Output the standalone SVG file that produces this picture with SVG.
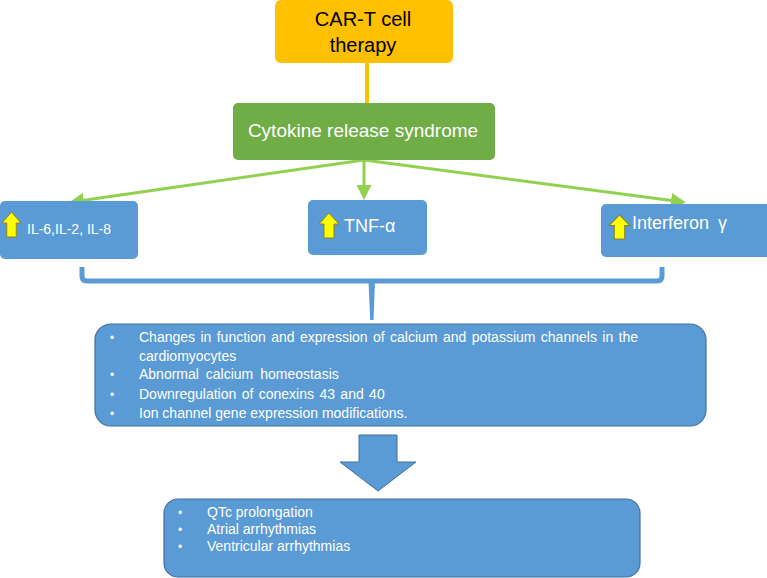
<svg xmlns="http://www.w3.org/2000/svg" xmlns:xlink="http://www.w3.org/1999/xlink" width="767" height="578" viewBox="0 0 767 578">
<style>
  text { font-family: "Liberation Sans", Arial, sans-serif; }
  .w { fill: #ffffff; }
  .k { fill: #000000; }
  .blue { fill: #5B9BD5; }
  .bb { fill: #5B9BD5; stroke: #41719C; stroke-width: 1.2; }
  .gl { stroke: #92D050; stroke-width: 3; fill: none; marker-end: url(#gh); }
  .body { font-size: 14px; fill: #ffffff; }
  .bul { font-size: 12px; }
  .up { fill: #FFFF00; stroke: #8A7F2A; stroke-width: 1; }
</style>
<defs>
  <marker id="gh" viewBox="0 0 10 10" refX="8" refY="5" markerWidth="5" markerHeight="5" orient="auto" markerUnits="strokeWidth">
    <path d="M0,0 L10,5 L0,10 z" fill="#92D050"/>
  </marker>
  <polygon id="upArrow" points="10,0 20,11 15,11 15,25 5,25 5,11 0,11"/>
</defs>

<g id="connectors">
  <line x1="367" y1="63" x2="367" y2="103" stroke="#FFC000" stroke-width="4"/>
  <line class="gl" x1="364" y1="160" x2="72" y2="202"/>
  <line class="gl" x1="364" y1="160" x2="364" y2="197"/>
  <line class="gl" x1="364" y1="160" x2="683" y2="202"/>
  <path d="M82,267 V276 Q82,281 87,281 H657 Q662,281 662,276 V267" fill="none" stroke="#5B9BD5" stroke-width="5"/>
  <polygon points="368.5,281 375,281 373.5,320 370.2,320" fill="#5B9BD5"/>
  <polygon points="359,435 397,435 397,462 416,462 378,491 340,462 359,462" fill="#5B9BD5" stroke="#41719C" stroke-width="1"/>
</g>

<g id="car-t">
  <rect x="275" y="0" width="178" height="63" rx="6" fill="#FFC000"/>
  <text x="363" y="26" text-anchor="middle" font-size="20" class="k">CAR-T cell</text>
  <text x="363" y="52" text-anchor="middle" font-size="20" class="k">therapy</text>
</g>

<g id="crs">
  <rect x="233" y="103" width="262" height="57" rx="5" fill="#70AD47"/>
  <text x="363" y="137" text-anchor="middle" font-size="19" class="w">Cytokine release syndrome</text>
</g>

<g id="il">
  <rect x="0" y="201" width="138" height="58" rx="5" class="blue"/>
  <use xlink:href="#upArrow" class="up" transform="translate(2,212) scale(0.95,1)"/>
  <text x="27" y="234" font-size="14" class="w">IL-6,IL-2, IL-8</text>
</g>

<g id="tnf">
  <rect x="308" y="200" width="119" height="55" rx="5" class="blue"/>
  <use xlink:href="#upArrow" class="up" transform="translate(319,213)"/>
  <text x="344" y="232" font-size="18" class="w">TNF-α</text>
</g>

<g id="ifn">
  <rect x="601" y="204" width="172" height="53" rx="5" class="blue"/>
  <use xlink:href="#upArrow" class="up" transform="translate(609,215) scale(1.05,0.96)"/>
  <text x="632" y="229" font-size="18" class="w" word-spacing="4">Interferon γ</text>
</g>

<g id="mechanisms">
  <rect x="95" y="324" width="611" height="102" rx="16" class="bb"/>
  <g class="body">
    <text class="bul" x="110" y="342">•</text>
    <text x="139" y="342" word-spacing="1.5">Changes in function and expression of calcium and potassium channels in the</text>
    <text x="139" y="361">cardiomyocytes</text>
    <text class="bul" x="110" y="379">•</text>
    <text x="139" y="379" word-spacing="3">Abnormal calcium homeostasis</text>
    <text class="bul" x="110" y="399">•</text>
    <text x="139" y="399" word-spacing="1.5">Downregulation of conexins 43 and 40</text>
    <text class="bul" x="110" y="418">•</text>
    <text x="139" y="418">Ion channel gene expression modifications.</text>
  </g>
</g>

<g id="outcomes">
  <rect x="164" y="499" width="476" height="78" rx="14" class="bb"/>
  <g class="body">
    <text class="bul" x="178" y="517">•</text>
    <text x="207" y="517">QTc prolongation</text>
    <text class="bul" x="178" y="534">•</text>
    <text x="207" y="534">Atrial arrhythmias</text>
    <text class="bul" x="178" y="551">•</text>
    <text x="207" y="551">Ventricular arrhythmias</text>
  </g>
</g>
</svg>
